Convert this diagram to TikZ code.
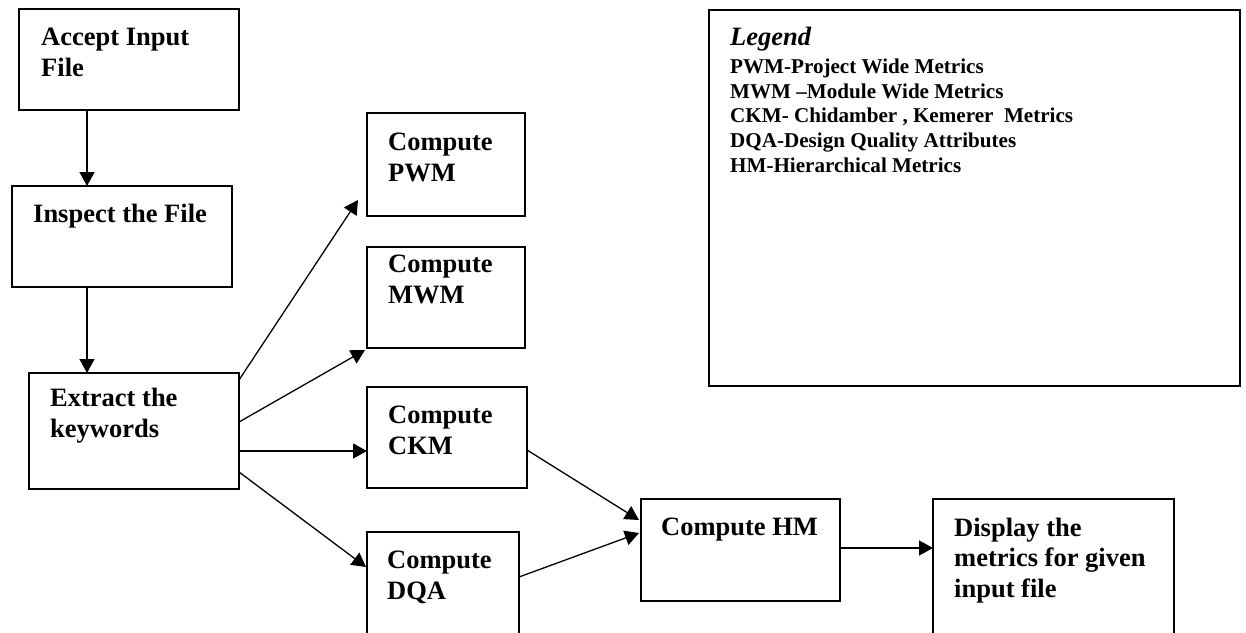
\documentclass[tikz,border=0pt]{standalone}
\usepackage{fontspec}
\setmainfont{Liberation Serif}
\usetikzlibrary{arrows.meta,calc}
\begin{document}
\begin{tikzpicture}[x=1pt,y=-1pt,
  box/.style={draw, line width=1.5pt, anchor=north west, inner sep=0pt, outer sep=0pt},
  lbl/.style={anchor=base west, inner sep=0pt, align=left,
              font=\fontsize{26.5}{30.5}\selectfont\bfseries},
  legtxt/.style={anchor=base west, inner sep=0pt, align=left,
              font=\fontsize{21.1}{24.75}\selectfont\bfseries},
  arr/.style={-{Triangle[length=14pt,width=15pt]}, line width=1.3pt}]
\fill[white] (0,0) rectangle (1246,632);
\useasboundingbox (0,0) rectangle (1246,632);

% process boxes
\node[box, minimum width=220pt, minimum height=101pt] (acc) at (19,9) {};
\node[box, minimum width=220pt, minimum height=101pt] (ins) at (12,186) {};
\node[box, minimum width=210pt, minimum height=116pt] (ext) at (29,373) {};
\node[box, minimum width=158pt, minimum height=103pt] (pwm) at (367,113) {};
\node[box, minimum width=158pt, minimum height=101pt] (mwm) at (367,247) {};
\node[box, minimum width=160pt, minimum height=101pt] (ckm) at (367,387) {};
\node[box, minimum width=152pt, minimum height=130pt] (dqa) at (367,532) {};
\node[box, minimum width=199pt, minimum height=102pt] (hm)  at (641,499) {};
\node[box, minimum width=241pt, minimum height=150pt] (dsp) at (933,499) {};
\node[box, minimum width=531pt, minimum height=376pt] (leg) at (709,10) {};

% box texts (placed at the baseline of their last line)
\node[lbl] (acc-t) at (41,76)  {Accept Input\\File};
\node[lbl] (ins-t) at (33,222) {Inspect the File};
\node[lbl] (ext-t) at (50,437) {Extract the\\keywords};
\node[lbl] (pwm-t) at (388,181) {Compute\\PWM};
\node[lbl] (mwm-t) at (388,303) {Compute\\MWM};
\node[lbl] (ckm-t) at (388,454) {Compute\\CKM};
\node[lbl] (dqa-t) at (387,599) {Compute\\DQA};
\node[lbl] (hm-t)  at (661,535) {Compute HM};
\node[lbl] (dsp-t) at (954,597) {Display the\\metrics for given\\input file};

% legend
\node[lbl, font=\fontsize{26.5}{30.5}\selectfont\bfseries\itshape] (leg-title) at (730,45) {Legend};
\node[legtxt] (leg-items) at (730,172.3) {PWM-Project Wide Metrics\\
  MWM –Module Wide Metrics\\
  CKM- Chidamber , Kemerer~ Metrics\\
  DQA-Design Quality Attributes\\
  HM-Hierarchical Metrics};

% connectors
\draw[arr] ($(acc.south west)+(68,0)$) -- ($(ins.north west)+(75,0)$);
\draw[arr] ($(ins.south west)+(75,0)$) -- ($(ext.north west)+(58,0)$);
\draw[arr] ($(ext.north east)+(0,7)$)  -- ($(pwm.south west)+(-9,-16)$);
\draw[arr] ($(ext.north east)+(0,49)$) -- ($(mwm.south west)+(-2,2)$);
\draw[arr] ($(ext.north east)+(0,78)$) -- ($(ckm.north west)+(0,64)$);
\draw[arr] ($(ext.north east)+(0,99)$) -- ($(dqa.north west)+(-1,35)$);
\draw[arr] ($(ckm.north east)+(0,63)$) -- ($(hm.north west)+(-2,21)$);
\draw[arr] ($(dqa.north east)+(0,45)$) -- ($(hm.north west)+(-2,34)$);
\draw[arr] ($(hm.north east)+(0,49)$)  -- ($(dsp.north west)+(0,49)$);
\end{tikzpicture}
\end{document}
